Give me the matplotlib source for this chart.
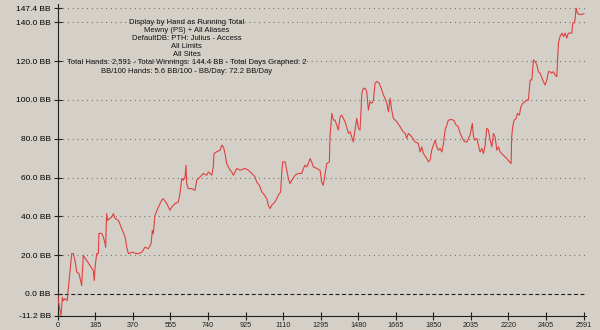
import numpy as np
import matplotlib
matplotlib.use("Agg")
import matplotlib.pyplot as plt

# running total: hand number -> winnings in BB
hands = [0, 3, 16, 23, 28, 36, 47, 52, 61, 69, 77, 85, 94, 105, 118, 126, 143, 159, 175, 180,
         184, 192, 200, 203, 217, 225, 233, 236, 241, 246, 258, 266, 274, 282, 299, 315, 332, 340,
         348, 365, 381, 397, 414, 430, 446, 460, 466, 471, 479, 496, 512, 520, 537, 553, 562, 578,
         594, 602, 611, 619, 627, 632, 635, 643, 660, 676, 685, 701, 717, 734, 742, 759, 766, 770,
         783, 800, 808, 816, 824, 832, 849, 857, 865, 882, 898, 923, 939, 956, 972, 980, 993, 1005,
         1013, 1030, 1037, 1046, 1054, 1070, 1087, 1098, 1103, 1108, 1120, 1128, 1136, 1144, 1153,
         1169, 1185, 1202, 1210, 1218, 1227, 1234, 1243, 1251, 1259, 1276, 1292, 1300, 1308, 1317,
         1325, 1338, 1341, 1350, 1358, 1366, 1374, 1382, 1391, 1399, 1415, 1423, 1432, 1440, 1448,
         1456, 1464, 1473, 1481, 1489, 1498, 1505, 1514, 1522, 1530, 1538, 1547, 1555, 1563, 1571,
         1584, 1596, 1604, 1612, 1621, 1629, 1637, 1645, 1653, 1670, 1686, 1702, 1711, 1719, 1727,
         1744, 1760, 1776, 1785, 1793, 1801, 1818, 1826, 1834, 1842, 1859, 1867, 1875, 1883, 1892,
         1900, 1908, 1916, 1924, 1941, 1952, 1962, 1973, 1982, 1998, 2006, 2015, 2023, 2031, 2039,
         2042, 2047, 2052, 2064, 2072, 2080, 2089, 2097, 2105, 2113, 2121, 2130, 2138, 2146, 2154,
         2163, 2171, 2179, 2195, 2212, 2225, 2233, 2236, 2241, 2248, 2258, 2264, 2274, 2281, 2291,
         2302, 2310, 2318, 2327, 2335, 2343, 2351, 2360, 2367, 2376, 2392, 2400, 2409, 2417, 2425,
         2433, 2441, 2450, 2458, 2466, 2474, 2483, 2491, 2499, 2507, 2515, 2524, 2532, 2537, 2543,
         2548, 2553, 2560, 2570, 2591]
winnings = [0, -3.5, -11.2, -1.8, -3.5, -2.4, -3.5, 2.7, 12.1, 20.8, 20.8, 17.2, 11.2, 10.5, 4.3,
            19.8, 17.2, 14.6, 12.1, 6.9, 13.8, 20.8, 20.8, 31.2, 31.2, 29.3, 26.0, 24.1, 41.4, 37.9,
            39.0, 39.6, 41.4, 39.0, 37.9, 33.8, 29.3, 24.1, 20.7, 21.5, 21.0, 20.7, 21.5, 24.1, 23.3,
            25.9, 32.7, 31.0, 40.5, 44.8, 48.3, 49.1, 46.6, 43.1, 44.8, 46.6, 47.4, 51.7, 59.5, 58.6,
            60.3, 66.4, 56.9, 54.3, 54.3, 53.4, 58.6, 60.3, 62.1, 61.2, 62.9, 61.2, 65.5, 72.4, 73.3,
            74.1, 76.7, 75.8, 72.4, 67.2, 63.8, 62.9, 61.2, 64.7, 63.8, 64.7, 63.8, 62.1, 60.3, 57.7,
            56.0, 52.6, 51.7, 49.1, 45.7, 44.0, 45.7, 47.4, 50.9, 52.6, 62.1, 68.1, 68.1, 63.8, 59.5,
            56.9, 58.6, 61.2, 62.1, 62.1, 64.7, 66.4, 65.5, 67.2, 69.8, 68.1, 65.5, 64.7, 63.8, 57.7,
            56.0, 62.1, 67.2, 68.1, 81.0, 93.1, 89.6, 89.6, 87.1, 84.5, 91.4, 92.2, 88.8, 86.2, 82.8,
            83.6, 81.0, 78.4, 84.5, 90.5, 85.4, 84.5, 103.5, 106.0, 106.0, 104.3, 94.8, 99.1, 98.3,
            100.0, 108.6, 109.5, 108.6, 105.2, 102.6, 100.9, 98.3, 93.9, 100.9, 94.8, 90.5, 88.8,
            86.2, 83.6, 82.8, 80.2, 82.8, 81.0, 78.4, 77.6, 73.2, 75.8, 72.4, 69.8, 68.1, 69.0, 74.1,
            79.3, 75.8, 74.1, 75.0, 73.2, 77.6, 84.5, 87.1, 89.6, 90.0, 89.3, 87.1, 86.2, 82.8, 79.3,
            78.4, 78.4, 80.2, 81.9, 86.2, 87.9, 81.9, 79.3, 80.2, 76.7, 73.2, 75.0, 72.4, 76.7, 85.4,
            84.5, 79.3, 75.8, 82.8, 81.0, 74.1, 75.8, 73.2, 71.5, 69.8, 68.1, 67.2, 81.0, 86.2, 89.6,
            90.5, 93.1, 92.2, 96.5, 98.3, 99.1, 100.0, 100.0, 110.3, 110.3, 120.7, 119.8, 118.1,
            114.6, 113.8, 109.5, 107.7, 110.3, 114.6, 114.6, 113.8, 114.6, 112.9, 112.0, 129.3, 132.7,
            134.5, 132.7, 134.5, 131.9, 134.5, 134.5, 134.5, 139.7, 139.7, 141.4, 147.4, 144.8, 144.0,
            144.4]

y_ticks = [-11.2, 0, 20, 40, 60, 80, 100, 120, 140, 147.4]
x_ticks = [0, 185, 370, 555, 740, 925, 1110, 1295, 1480, 1665, 1850, 2035, 2220, 2405, 2591]

info_lines = [
    "Display by Hand as Running Total",
    "Mewny (PS) + All Aliases",
    "DefaultDB: PTH: Julius - Access",
    "All Limits",
    "All Sites",
    "Total Hands: 2,591 - Total Winnings: 144.4 BB - Total Days Graphed: 2",
    "BB/100 Hands: 5.6 BB/100 - BB/Day: 72.2 BB/Day",
]

bg = "#d4d0c8"
plt.rcParams["font.family"] = ["Liberation Sans", "DejaVu Sans"]

fig = plt.figure(figsize=(6, 3.3), dpi=100, facecolor=bg)
ax = fig.add_axes([0.0962, 0.0424, 0.8805, 0.9455])
ax.set_facecolor(bg)

# grid lines at every y tick, the zero line dashed
for v in y_ticks:
    if v == 0:
        ax.axhline(v, color="#202020", lw=0.8, ls=(0, (3.5, 2.3)), zorder=1)
    else:
        ax.axhline(v, color="#555555", lw=0.8, ls=(0, (0.7, 3.6)), zorder=1)

ax.plot(hands, winnings, color="#e04040", lw=0.8, zorder=3)

ax.set_xlim(0, 2602)
ax.set_ylim(-11.4, 149.5)

ax.set_yticks(y_ticks)
ax.set_yticklabels(["%.1f BB" % v for v in y_ticks], fontsize=6)
ax.set_xticks(x_ticks)
ax.set_xticklabels([str(v) for v in x_ticks], fontsize=5.2, color="#202020")
ax.tick_params(axis="both", direction="inout", length=6, width=0.8, color="#202020", pad=2)
ax.tick_params(axis="x", pad=1)

for side in ["top", "right"]:
    ax.spines[side].set_visible(False)
for side in ["left", "bottom"]:
    ax.spines[side].set_color("#202020")
    ax.spines[side].set_linewidth(0.8)

ax.text(0.244, 0.952, "\n".join(info_lines), transform=ax.transAxes, ha="center",
        va="top", fontsize=5.5, linespacing=1.22, color="#101010")

fig.savefig("out.png", dpi=100, facecolor=bg)
